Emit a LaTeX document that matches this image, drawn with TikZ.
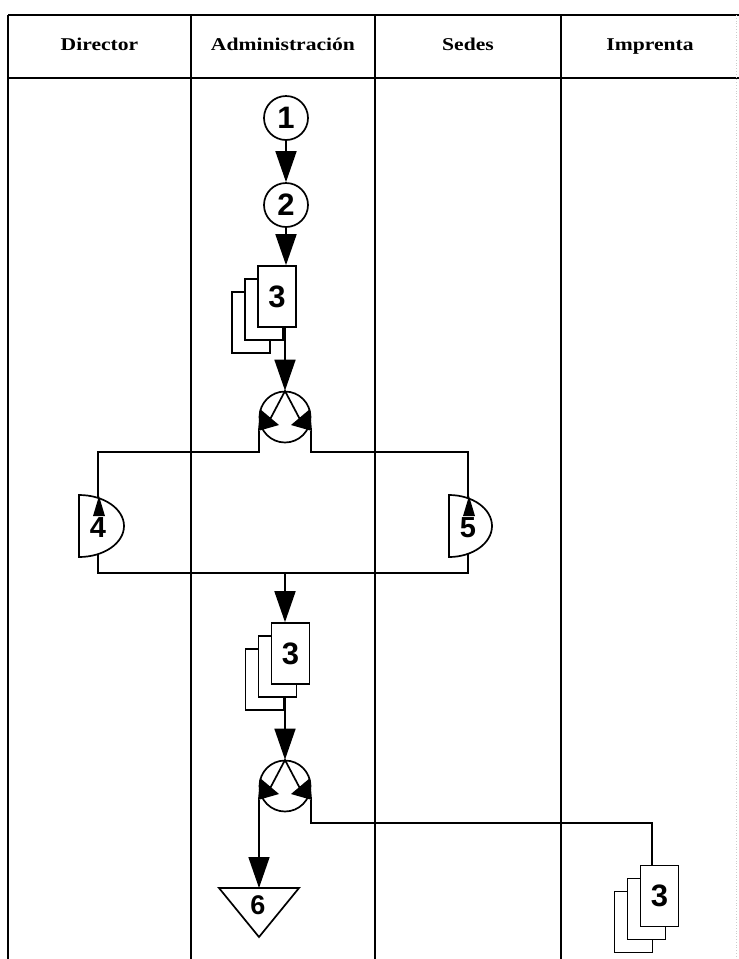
\documentclass[tikz,border=0pt]{standalone}
\usepackage{fontspec}
\setsansfont{Liberation Sans}
\newfontfamily\lanefont[FakeStretch=1.2]{Liberation Serif}
\usetikzlibrary{arrows.meta, calc, backgrounds}
\newcommand{\numfnt}{\sffamily\bfseries\fontsize{31}{31}\selectfont}
% three copies of a form, front one named #1 at #2
\newcommand{\pagestack}[2]{%
  \node[page] at ($(#2)+(-26,26)$) {};
  \node[page] at ($(#2)+(-13,13)$) {};
  \node[page] (#1) at (#2) {3};}
% distribution: circle with split outputs #1-l and #1-r
\newcommand{\splitnode}[2]{%
  \node[split] (#1) at (#2) {};
  \begin{scope}[shift={(#1.center)}]
    \draw[line] (-19,10) -- (0,-26) -- (19,10);
    \fill (-25,-8) -- (-27,14) -- (-6,8) -- cycle;
    \fill (25,-8) -- (27,14) -- (6,8) -- cycle;
    \coordinate (#1-l) at (-26,14);
    \coordinate (#1-r) at (26,14);
  \end{scope}}
% half disc with number: name, flat x, centre y, x radius, digit
\newcommand{\waitnode}[5]{%
  \draw[line, fill=white] (#2,#3-31) -- (#2,#3+31)
    arc[start angle=90, end angle=-90, x radius=#4, y radius=31] -- cycle;
  \node[num, font=\sffamily\bfseries\fontsize{29}{29}\selectfont] (#1) at (#2+19,#3+2) {#5};
  \fill (#2+20,#3-30) -- (#2+14,#3-10) -- (#2+26,#3-10) -- cycle;}

\begin{document}
\begin{tikzpicture}[x=1pt, y=-1pt, >={Triangle[width=21pt,length=31pt]},
  line/.style={line width=1.7pt},
  lane/.style={line width=2.6pt},
  head/.style={anchor=base, font=\lanefont\bfseries\fontsize{18}{20}\selectfont},
  num/.style={inner sep=0pt, font=\numfnt},
  step circle/.style={circle, draw, line width=1.7pt, fill=white, minimum size=44pt, inner sep=0pt, font=\numfnt},
  page/.style={draw, fill=white, line width=1.6pt, minimum width=38pt, minimum height=61pt, inner sep=0pt, font=\numfnt},
  split/.style={circle, draw, line width=1.7pt, fill=white, minimum size=51pt, inner sep=0pt}]
  \useasboundingbox (0,0) rectangle (739,959);
  % lanes
  \draw[lane] (8,15) -- (739,15);
  \draw[lane] (8,78) -- (739,78);
  \draw[lane] (8,15) -- (8,959);
  \draw[lane] (191,15) -- (191,959);
  \draw[lane] (375,15) -- (375,959);
  \draw[lane] (561,15) -- (561,959);
  \draw[gray!40, line width=0.8pt, dotted] (736,15) -- (736,959);
  \node[head] (hdir) at (99.5,50) {Director};
  \node[head] (hadm) at (283,50) {Administración};
  \node[head] (hsed) at (468,50) {Sedes};
  \node[head] (himp) at (650,50) {Imprenta};
  % Administracion, first part
  \node[step circle] (c1) at (286,118) {1};
  \node[step circle] (c2) at (286,205) {2};
  \pagestack{docA}{277,296.5}
  \splitnode{d1}{285,417}
  % loop through Director and Sedes
  \coordinate (ltop) at (98,452);
  \coordinate (lbot) at (98,573);
  \coordinate (rtop) at (468,452);
  \coordinate (rbot) at (468,573);
  \coordinate (join) at (285,573);
  \waitnode{p4}{79}{526}{45}{4}
  \waitnode{p5}{449}{526}{43}{5}
  % second part
  \pagestack{docB}{290.5,653.5}
  \splitnode{d2}{285,786}
  \draw[line, fill=white] (219,888) -- (299,888) -- (259,937) -- cycle;
  \node[num, font=\sffamily\bfseries\fontsize{27}{27}\selectfont] (p6) at (258,905) {6};
  \coordinate (t6) at (259,888);
  \pagestack{docC}{659.5,896}
  \coordinate (imp) at (652,823);
  % connectors behind the shapes
  \begin{scope}[on background layer]
    \draw[line, ->] (c1) -- (c2);
    \draw[line, ->] (c2) -- (c2 |- docA.north);
    \draw[line, ->] (docA.south -| d1) -- (d1);
    \draw[line] (d1-l) |- (ltop) -- (lbot) -- (join);
    \draw[line] (d1-r) |- (rtop) -- (rbot) -- (join);
    \draw[line, ->] (join) -- (join |- docB.north);
    \draw[line, ->] (docB.south -| d2) -- (d2);
    \draw[line, ->] (d2-l) -- (t6);
    \draw[line] (d2-r) |- (imp) -- (imp |- docC.north);
  \end{scope}
\end{tikzpicture}
\end{document}
